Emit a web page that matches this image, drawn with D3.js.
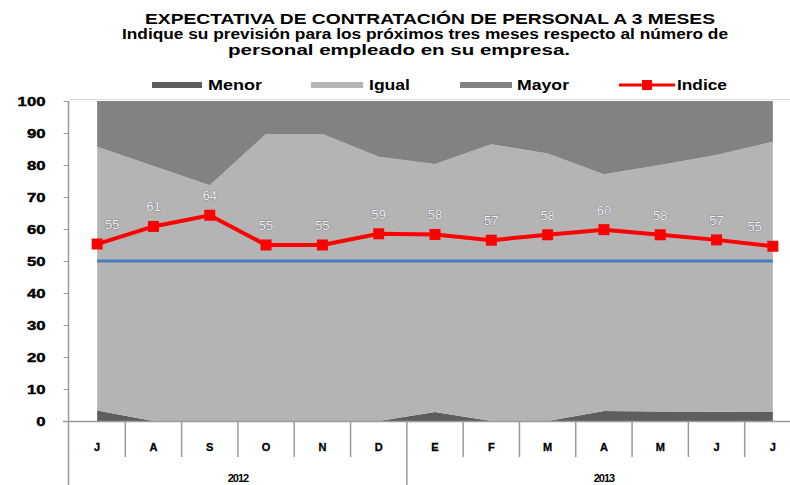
<!DOCTYPE html>
<html><head><meta charset="utf-8">
<script src="https://cdn.jsdelivr.net/npm/d3@7"></script>
<style>body{margin:0;background:#fff}svg{display:block}text{font-family:"Liberation Sans",Arial,sans-serif}</style>
</head><body><svg id="c" width="790" height="485"></svg>
<script>
const months = ["J","A","S","O","N","D","E","F","M","A","M","J","J"];
const years = [{label:"2012", start:0, end:6},{label:"2013", start:6, end:13}];
const menor = [3.3, 0, 0, 0, 0, 0, 2.8, 0, 0, 3.1, 3.0, 2.9, 2.8];
const igual = [82.4, 79.7, 73.7, 89.7, 89.7, 82.6, 77.5, 86.5, 83.6, 74.0, 77.0, 80.2, 84.5];
const mayor = [14.3, 20.3, 26.3, 10.3, 10.3, 17.4, 19.7, 13.5, 16.4, 22.9, 20.0, 16.9, 12.7];
const indice = [55.3, 60.8, 64.3, 55.0, 55.0, 58.5, 58.3, 56.5, 58.2, 59.8, 58.2, 56.6, 54.6];
const umbral = 50;
const yTicks = [0,10,20,30,40,50,60,70,80,90,100];
const titleLines = ["EXPECTATIVA DE CONTRATACIÓN DE PERSONAL  A 3 MESES",
  "Indique su previsión para los próximos tres meses respecto al número  de",
  "personal empleado  en su empresa."];

const svg = d3.select("#c");
const x = d3.scaleBand().domain(d3.range(months.length)).range([69, 801]);
const cx = i => x(i) + x.bandwidth()/2;
const y = d3.scaleLinear().domain([0,100]).range([421,101]);

// title
const tl = [{x0:145,x1:715,y:24,fs:15},{x0:122,x1:728,y:39,fs:14},{x0:228,x1:570,y:55,fs:14}];
titleLines.forEach((t,i)=>{
  svg.append("text").attr("x",tl[i].x0).attr("y",tl[i].y).attr("font-size",tl[i].fs)
    .attr("font-weight","bold").attr("textLength",tl[i].x1-tl[i].x0).attr("lengthAdjust","spacingAndGlyphs").text(t);
});

// stacked areas
const rows = months.map((m,i)=>({i, menor:menor[i], igual:igual[i], mayor:mayor[i]}));
const keys = ["menor","igual","mayor"];
const colors = {menor:"#5e5e5e", igual:"#b4b4b4", mayor:"#828282"};
const stack = d3.stack().keys(keys)(rows);
const area = d3.area().x(d=>cx(d.data.i)).y0(d=>y(d[0])).y1(d=>y(d[1]));
svg.append("g").selectAll("path").data(stack).join("path")
  .attr("d",area).attr("fill",d=>colors[d.key]);

// top border
svg.append("line").attr("x1",69).attr("x2",790).attr("y1",99.5).attr("y2",99.5).attr("stroke","#dcdcdc");

// 50 line
svg.append("line").attr("x1",cx(0)).attr("x2",cx(months.length-1)).attr("y1",y(umbral)).attr("y2",y(umbral))
  .attr("stroke","#4a7ebb").attr("stroke-width",3);

// y axis
const yAxis = svg.append("g").attr("transform","translate(68.5,0)")
  .call(d3.axisLeft(y).tickValues(yTicks).tickSize(5).tickFormat(d3.format("d")));
yAxis.select(".domain").remove();
yAxis.selectAll(".tick line").attr("stroke","#9a9a9a");
yAxis.selectAll(".tick text").attr("x",-23).attr("font-size",13).attr("font-weight","bold").attr("fill","#000")
  .attr("font-family","'Liberation Sans',Arial,sans-serif")
  .attr("stroke","#000").attr("stroke-width",0.4)
  .attr("textLength",d=>String(d).length*9.3).attr("lengthAdjust","spacingAndGlyphs");
svg.append("line").attr("x1",68.5).attr("x2",68.5).attr("y1",101).attr("y2",485).attr("stroke","#9a9a9a").attr("stroke-width",1.5);

// x axis
svg.append("line").attr("x1",63).attr("x2",790).attr("y1",421.5).attr("y2",421.5).attr("stroke","#9a9a9a").attr("stroke-width",1.5);
const xg = svg.append("g");
d3.range(1, months.length+1).forEach(k=>{
  const xb = x(k) !== undefined ? x(k) : x(months.length-1)+x.bandwidth();
  const isYear = years.some(yr=>yr.end===k);
  xg.append("line").attr("x1",xb).attr("x2",xb).attr("y1",421).attr("y2",isYear?485:457)
    .attr("stroke","#9a9a9a").attr("stroke-width",1.5);
});
xg.selectAll("text.m").data(months).join("text").attr("class","m")
  .attr("x",(d,i)=>cx(i)).attr("y",451).attr("text-anchor","middle")
  .attr("font-size",11).attr("font-weight","bold").attr("stroke","#000").attr("stroke-width",0.3).text(d=>d);
xg.selectAll("text.yr").data(years).join("text").attr("class","yr")
  .attr("x",d=>(x(d.start)+ (d.end<months.length? x(d.end): x(months.length-1)+x.bandwidth()))/2)
  .attr("y",482).attr("text-anchor","middle").attr("font-size",11).attr("font-weight","bold")
  .attr("letter-spacing",-1).text(d=>d.label);

// indice line
const line = d3.line().x((d,i)=>cx(i)).y(d=>y(d));
svg.append("path").datum(indice).attr("d",line).attr("fill","none").attr("stroke","#ff0000").attr("stroke-width",4);
svg.selectAll("rect.mk").data(indice).join("rect").attr("class","mk")
  .attr("x",(d,i)=>cx(i)-5.5).attr("y",d=>y(d)-5.5).attr("width",11).attr("height",11).attr("fill","#ff0000");
svg.selectAll("text.lb").data(indice).join("text").attr("class","lb")
  .attr("x",(d,i)=>cx(i)+(i===0?15:(i===indice.length-1?-18:0))).attr("y",d=>y(d)-15)
  .attr("text-anchor","middle").attr("font-size",13).attr("fill","#f4f4f4")
  .attr("stroke","#4a4f6a").attr("stroke-width",0.6).attr("paint-order","stroke")
  .text(d=>Math.round(d));

// legend
const leg = [
  {name:"Menor", key:"menor", s0:152, s1:202, t0:208, t1:262},
  {name:"Igual", key:"igual", s0:311, s1:363, t0:369, t1:410},
  {name:"Mayor", key:"mayor", s0:460, s1:512, t0:517, t1:569},
  {name:"Indice", key:"indice", s0:619, s1:675, t0:677, t1:727}
];
leg.forEach(l=>{
  if(l.key==="indice"){
    svg.append("line").attr("x1",l.s0).attr("x2",l.s1).attr("y1",85).attr("y2",85).attr("stroke","#ff0000").attr("stroke-width",3);
    svg.append("rect").attr("x",(l.s0+l.s1)/2-5).attr("y",80).attr("width",10).attr("height",10).attr("fill","#ff0000");
  } else {
    svg.append("rect").attr("x",l.s0).attr("y",82).attr("width",l.s1-l.s0).attr("height",6).attr("fill",colors[l.key]);
  }
  svg.append("text").attr("x",l.t0).attr("y",90).attr("font-size",14).attr("font-weight","bold")
    .attr("textLength",l.t1-l.t0).attr("lengthAdjust","spacingAndGlyphs").text(l.name);
});
</script></body></html>
